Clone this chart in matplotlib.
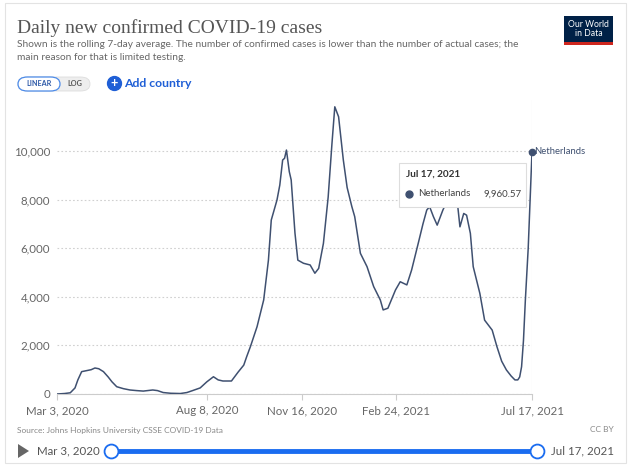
import matplotlib.pyplot as plt
import numpy as np
from matplotlib.lines import Line2D
from matplotlib.patches import FancyBboxPatch, Rectangle

# days since Mar 3, 2020 and 7-day average of new confirmed cases
days_since_start = [0, 8, 14, 19, 22, 26, 31, 36, 40, 44, 49, 54, 58, 63, 70, 77, 84, 91,
                    101, 106, 112, 120, 130, 137, 143, 151, 158, 165, 170, 175, 184, 191,
                    197, 200, 204, 211, 218, 223, 226, 232, 235, 238, 240, 242, 245, 247,
                    251, 254, 260, 267, 272, 276, 281, 286, 290, 293, 297, 302, 306, 311,
                    314, 320, 327, 334, 341, 344, 349, 357, 362, 369, 374, 381, 386, 390,
                    393, 397, 401, 407, 411, 417, 422, 425, 429, 432, 436, 439, 446, 451,
                    459, 464, 469, 474, 479, 483, 486, 488, 490, 492, 494, 497, 499, 501]
cases = [0, 20, 50, 250, 580, 920, 960, 1000, 1070, 1040, 920, 700, 500, 300, 220, 165,
         140, 120, 165, 140, 60, 30, 20, 60, 140, 250, 500, 710, 580, 535, 535, 900,
         1190, 1530, 1950, 2770, 3870, 5510, 7160, 7980, 8600, 9630, 9700, 10040, 9150, 8810,
         6620, 5510, 5380, 5310, 4970, 5170, 6200, 8100, 10300, 11820, 11410, 9630, 8500, 7710,
         7300, 5790, 5240, 4420, 3870, 3460, 3530, 4280, 4620, 4490, 5100, 6200, 7000, 7570,
         7710, 7300, 6950, 7570, 7900, 8200, 7980, 6880, 7430, 7360, 6610, 5240, 4140, 3040,
         2630, 1950, 1350, 990, 740, 580, 580, 700, 1120, 2200, 3870, 6000, 7980, 9960.57]
country = "Netherlands"
start_date = np.datetime64("2020-03-03")
tick_days = [0, 158, 258, 358, 501]
tick_labels = ["Mar 3, 2020", "Aug 8, 2020", "Nov 16, 2020", "Feb 24, 2021", "Jul 17, 2021"]
y_ticks = [0, 2000, 4000, 6000, 8000, 10000]

W, H = 630, 466
LINE = "#3f5070"
GREY = "#666666"
BLUE = "#1a6cf0"
plt.rcParams["font.family"] = ["Lato", "DejaVu Sans"]


def px(x, y):
    return x / W, 1 - y / H


fig = plt.figure(figsize=(W / 100, H / 100), dpi=100)
fig.patch.set_facecolor("white")

# card frame
fig.add_artist(Rectangle(px(5, 463), 621 / W, 460 / H, transform=fig.transFigure,
                         fill=False, edgecolor="#e3e3e3", lw=0.8))

dates = start_date + np.array(days_since_start).astype("timedelta64[D]")
tick_dates = start_date + np.array(tick_days).astype("timedelta64[D]")

ax = fig.add_axes([57 / W, 72 / H, 475 / W, 294 / H])
ax.plot(dates, cases, color=LINE, lw=1.1, zorder=3)
ax.plot(dates[-1], cases[-1], "o", color=LINE, ms=4.5, zorder=4, clip_on=False)
ax.text(dates[-1] + np.timedelta64(2, "D"), cases[-1], country, color=LINE,
        fontsize=6.8, va="center", ha="left")
ax.axvline(dates[-1], color="#e6e6e6", lw=0.8, zorder=1)

ax.set_xlim(dates[0], dates[-1])
ax.set_ylim(0, 12100)
ax.set_yticks(y_ticks)
ax.set_yticklabels([f"{v:,}" for v in y_ticks])
ax.set_xticks(tick_dates)
ax.set_xticklabels(tick_labels)
ax.tick_params(axis="y", length=0, pad=5, labelsize=8.3, labelcolor=GREY)
ax.tick_params(axis="x", length=4, color="#cccccc", pad=4, labelsize=8.3, labelcolor=GREY)
ax.grid(axis="y", color="#d0d0d0", ls=(0, (1.5, 2)), lw=0.8)
for s in ["top", "right", "left"]:
    ax.spines[s].set_visible(False)
ax.spines["bottom"].set_color("#cccccc")
ax.set_axisbelow(True)

# header
fig.text(*px(17, 33), "Daily new confirmed COVID-19 cases", fontsize=14,
         family=["Liberation Serif"], color="#555555")
fig.text(*px(17, 47), "Shown is the rolling 7-day average. The number of confirmed cases is lower "
         "than the number of actual cases; the", fontsize=7.3, color=GREY)
fig.text(*px(17, 60), "main reason for that is limited testing.", fontsize=7.3, color=GREY)

# logo
fig.add_artist(Rectangle(px(564, 45), 49 / W, 29 / H, transform=fig.transFigure,
                         facecolor="#002147", edgecolor="none"))
fig.add_artist(Rectangle(px(564, 45), 49 / W, 3 / H, transform=fig.transFigure,
                         facecolor="#ce261e", edgecolor="none"))
fig.text(*px(588.5, 29), "Our World\nin Data", fontsize=6.2, color="white",
         ha="center", va="center", linespacing=0.95)

# linear / log toggle
fig.add_artist(FancyBboxPatch(px(18, 91), 72 / W, 14 / H, boxstyle="round,pad=0,rounding_size=0.015",
                              transform=fig.transFigure, facecolor="#eeeeee", edgecolor="#dddddd", lw=0.6))
fig.add_artist(FancyBboxPatch(px(18, 91), 42 / W, 14 / H, boxstyle="round,pad=0,rounding_size=0.015",
                              transform=fig.transFigure, facecolor="white", edgecolor="#4d8be8", lw=0.9))
fig.text(*px(39, 84), "LINEAR", fontsize=5.2, color="#2e5aa8", ha="center", va="center", weight="bold")
fig.text(*px(75, 84), "LOG", fontsize=5.2, color="#555555", ha="center", va="center", weight="bold")

# add country
fig.add_artist(Line2D([114 / W], [1 - 83 / H], marker="o", ms=10, color="#1f5fd6",
                      transform=fig.transFigure))
fig.text(*px(114, 83.5), "+", fontsize=9, color="white", ha="center", va="center", weight="bold")
fig.text(*px(124, 83.5), "Add country", fontsize=8.8, color="#1f5fd6", va="center", weight="bold")

# tooltip
fig.add_artist(Rectangle(px(399, 207), 127 / W, 44 / H, transform=fig.transFigure,
                         facecolor="white", edgecolor="#dddddd", lw=0.8, zorder=5))
fig.text(*px(406, 177), "Jul 17, 2021", fontsize=7.2, color="#333333", weight="bold", zorder=6)
fig.add_artist(Line2D([409 / W], [1 - 194 / H], marker="o", ms=5, color=LINE,
                      transform=fig.transFigure, zorder=6))
fig.text(*px(418, 194), country, fontsize=7, color="#444444", va="center", zorder=6)
fig.text(*px(522, 194), f"{cases[-1]:,.2f}", fontsize=7, color="#444444", va="center",
         ha="right", zorder=6)

# footer
fig.text(*px(17, 430), "Source: Johns Hopkins University CSSE COVID-19 Data", fontsize=6,
         color="#888888", va="center")
fig.text(*px(614, 430), "CC BY", fontsize=6, color="#888888", va="center", ha="right")

# timeline slider
fig.add_artist(plt.Polygon([px(18, 444), px(18, 458), px(29, 451)], closed=True,
                           transform=fig.transFigure, facecolor="#666666", edgecolor="none"))
fig.text(*px(37, 451), tick_labels[0], fontsize=8.3, color="#555555", va="center")
fig.text(*px(551, 451), tick_labels[-1], fontsize=8.3, color="#555555", va="center")
fig.add_artist(Line2D([111 / W, 537 / W], [1 - 451 / H] * 2, color=BLUE, lw=3.5,
                      transform=fig.transFigure, solid_capstyle="butt"))
fig.add_artist(Line2D([111 / W, 537 / W], [1 - 451 / H] * 2, ls="none", marker="o", ms=10,
                      mfc="white", mec=BLUE, mew=1.3, transform=fig.transFigure))

fig.savefig("out.png", dpi=100)
